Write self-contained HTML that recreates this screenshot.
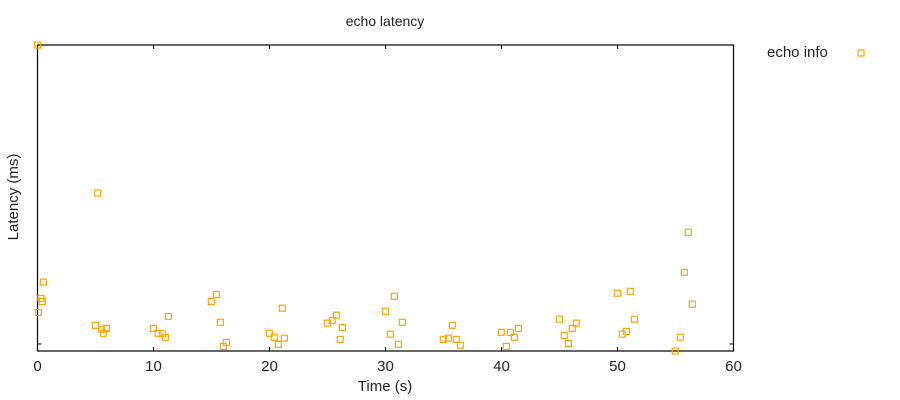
<!DOCTYPE html>
<html><head><meta charset="utf-8"><style>
body{margin:0;background:#fff;}
svg{display:block;font-family:"Liberation Sans",sans-serif;}
</style></head><body>
<svg id="chart" width="900" height="400">
<text x="385" y="26" text-anchor="middle" font-size="14" fill="#222">echo latency</text>
<text transform="translate(18,197) rotate(-90)" text-anchor="middle" font-size="15" fill="#222">Latency (ms)</text>
<text x="385" y="391" text-anchor="middle" font-size="15" fill="#222">Time (s)</text>
<g>
<text x="767" y="57" font-size="15" fill="#222">echo info</text>
<rect x="858" y="50" width="6" height="6" fill="none" stroke="#FFA500" stroke-width="1.2"/>
</g>
<g id="axes"></g>
<g id="points"></g>
</svg>
<script>
const times=[0,5.2,0.5,0.3,0.4,0.07,4.98,5.53,5.93,5.67,9.98,10.39,10.76,11.02,11.28,14.98,15.41,15.76,16.02,16.28,19.98,20.41,20.76,21.28,21.10,24.98,25.41,25.76,26.28,26.10,29.98,30.76,30.41,31.45,31.10,34.98,35.41,35.76,36.10,36.45,39.98,40.41,40.76,41.10,41.45,44.98,45.41,45.76,46.10,46.45,49.98,50.41,50.76,51.10,51.45,54.98,55.41,55.76,56.10,56.45];
const latencies=[100,51.6,22.5,17.2,16.2,12.6,8.4,7.1,7.4,5.8,7.4,5.8,5.6,4.5,11.3,16.2,18.5,9.4,1.5,2.8,5.8,4.5,2.2,4.2,14.0,9.1,10.0,11.7,7.7,3.8,13.0,17.9,5.5,9.4,2.2,3.8,4.2,8.4,3.8,1.9,6.1,1.5,6.1,4.5,7.4,10.4,5.1,2.5,7.4,9.1,18.9,5.5,6.4,19.5,10.4,0,4.5,25.7,38.8,15.3];
const xTicks=[0,10,20,30,40,50,60];
const yTicks=[2.3];
const L=37.5,R=733.5,T=45,B=351;
const xs=v=>L+(v-0)/(60-0)*(R-L);
const ys=v=>B-(v-0)/100*(B-T);
const NS="http://www.w3.org/2000/svg";
const axes=document.getElementById('axes'),pts=document.getElementById('points');
function mk(tag,attrs,parent){const e=document.createElementNS(NS,tag);for(const k in attrs)e.setAttribute(k,attrs[k]);parent.appendChild(e);return e;}
const frame=mk('rect',{x:L,y:T,width:R-L,height:B-T,fill:'none',stroke:'#000','stroke-width':1.2},axes);


xTicks.forEach(t=>{
  const x=xs(t);
  const a=mk('line',{x1:x,x2:x,y1:B,y2:B-4,stroke:'#000','stroke-width':1},axes);
  
  
  const b=mk('line',{x1:x,x2:x,y1:T,y2:T+4,stroke:'#000','stroke-width':1},axes);
  
  
  const tx=mk('text',{x:x,y:B+20,'text-anchor':'middle','font-size':15,fill:'#222'},axes);
  tx.textContent=t;
  
  
});
yTicks.forEach(v=>{
  const y=ys(v);
  const a=mk('line',{x1:L,x2:L+4,y1:y,y2:y,stroke:'#000','stroke-width':1},axes);
  
  
  const b=mk('line',{x1:R,x2:R-4,y1:y,y2:y,stroke:'#000','stroke-width':1},axes);
  
  
});
times.forEach((t,i)=>{
  const r=mk('rect',{x:xs(t)-3,y:ys(latencies[i])-3,width:6,height:6,fill:'none',stroke:'#FFA500','stroke-width':1.2},pts);
  
  
});
</script>
</body></html>
